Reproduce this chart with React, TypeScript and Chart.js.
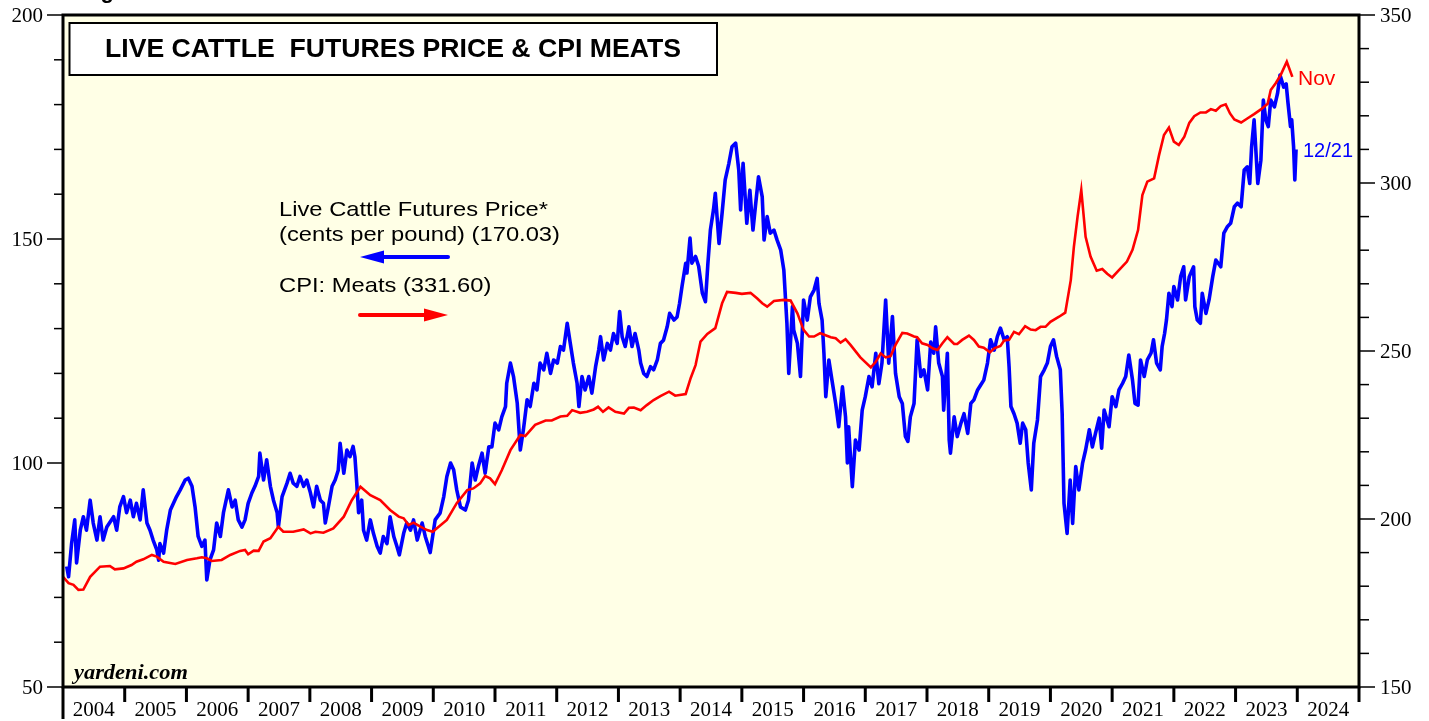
import React, { useEffect, useRef } from "react";
import { Chart, registerables } from "chart.js";

Chart.register(...registerables);

// Live cattle futures price (cents per pound), weekly-ish readings
const cattleDates = [
  2004.06, 2004.09, 2004.14, 2004.19, 2004.22, 2004.28, 2004.33, 2004.38, 2004.44, 2004.49, 2004.55, 2004.6, 2004.65, 2004.71, 2004.82, 2004.87, 2004.92, 2004.98,
  2005.03, 2005.09, 2005.14, 2005.19, 2005.25, 2005.3, 2005.36, 2005.41, 2005.46, 2005.52, 2005.55, 2005.57, 2005.63, 2005.68, 2005.74, 2005.79, 2005.84, 2005.9, 2005.98,
  2006.03, 2006.09, 2006.14, 2006.19, 2006.25, 2006.3, 2006.33, 2006.38, 2006.44, 2006.49, 2006.55, 2006.6, 2006.68, 2006.74, 2006.79, 2006.84, 2006.9, 2006.95,
  2007.0, 2007.06, 2007.11, 2007.17, 2007.19, 2007.25, 2007.3, 2007.36, 2007.41, 2007.47, 2007.49, 2007.55, 2007.63, 2007.68, 2007.73, 2007.79, 2007.84, 2007.9, 2007.95,
  2008.01, 2008.06, 2008.11, 2008.17, 2008.22, 2008.25, 2008.3, 2008.36, 2008.41, 2008.46, 2008.49, 2008.55, 2008.6, 2008.65, 2008.7, 2008.73, 2008.76, 2008.79, 2008.84, 2008.87, 2008.92, 2008.98,
  2009.03, 2009.09, 2009.14, 2009.19, 2009.25, 2009.3, 2009.36, 2009.41, 2009.45, 2009.52, 2009.57, 2009.63, 2009.68, 2009.74, 2009.82, 2009.87, 2009.92, 2009.95,
  2010.03, 2010.11, 2010.17, 2010.22, 2010.28, 2010.33, 2010.38, 2010.44, 2010.52, 2010.57, 2010.63, 2010.68, 2010.73, 2010.79, 2010.84, 2010.9, 2010.95,
  2011.0, 2011.06, 2011.11, 2011.17, 2011.19, 2011.25, 2011.3, 2011.36, 2011.41, 2011.46, 2011.52, 2011.57, 2011.63, 2011.68, 2011.73, 2011.79, 2011.84, 2011.9, 2011.95,
  2012.01, 2012.06, 2012.11, 2012.17, 2012.22, 2012.27, 2012.33, 2012.36, 2012.41, 2012.46, 2012.52, 2012.57, 2012.63, 2012.68, 2012.71, 2012.76, 2012.82, 2012.87, 2012.92, 2012.98,
  2013.02, 2013.06, 2013.11, 2013.17, 2013.22, 2013.27, 2013.33, 2013.36, 2013.41, 2013.46, 2013.52, 2013.57, 2013.63, 2013.68, 2013.73, 2013.79, 2013.83, 2013.9, 2013.95, 2013.99,
  2014.03, 2014.09, 2014.11, 2014.16, 2014.19, 2014.25, 2014.3, 2014.36, 2014.41, 2014.45, 2014.49, 2014.54, 2014.57, 2014.63, 2014.68, 2014.73, 2014.79, 2014.84, 2014.9, 2014.95, 2014.98,
  2015.02, 2015.08, 2015.13, 2015.18, 2015.22, 2015.27, 2015.33, 2015.36, 2015.41, 2015.46, 2015.52, 2015.57, 2015.63, 2015.68, 2015.73, 2015.76, 2015.82, 2015.84, 2015.9, 2015.95,
  2016.0, 2016.06, 2016.11, 2016.17, 2016.22, 2016.25, 2016.3, 2016.33, 2016.36, 2016.41, 2016.46, 2016.52, 2016.57, 2016.63, 2016.68, 2016.71, 2016.73, 2016.79, 2016.84, 2016.9, 2016.95,
  2017.0, 2017.06, 2017.11, 2017.17, 2017.22, 2017.27, 2017.33, 2017.38, 2017.44, 2017.49, 2017.55, 2017.6, 2017.65, 2017.69, 2017.73, 2017.79, 2017.84, 2017.9, 2017.95,
  2018.01, 2018.06, 2018.11, 2018.14, 2018.19, 2018.25, 2018.27, 2018.33, 2018.36, 2018.38, 2018.44, 2018.49, 2018.55, 2018.6, 2018.66, 2018.71, 2018.76, 2018.82, 2018.87, 2018.92, 2018.98,
  2019.03, 2019.09, 2019.14, 2019.19, 2019.25, 2019.3, 2019.33, 2019.36, 2019.41, 2019.46, 2019.51, 2019.55, 2019.6, 2019.64, 2019.69, 2019.73, 2019.79, 2019.84, 2019.9, 2019.95,
  2020.0, 2020.05, 2020.1, 2020.16, 2020.19, 2020.22, 2020.27, 2020.32, 2020.36, 2020.41, 2020.46, 2020.52, 2020.57, 2020.63, 2020.68, 2020.73, 2020.79, 2020.83, 2020.87, 2020.95,
  2021.0, 2021.06, 2021.11, 2021.17, 2021.22, 2021.27, 2021.33, 2021.37, 2021.42, 2021.46, 2021.52, 2021.57, 2021.63, 2021.67, 2021.72, 2021.78, 2021.81, 2021.85, 2021.88, 2021.92, 2021.97,
  2022.0, 2022.06, 2022.11, 2022.16, 2022.19, 2022.25, 2022.32, 2022.34, 2022.38, 2022.43, 2022.46, 2022.52, 2022.57, 2022.63, 2022.68, 2022.76, 2022.81, 2022.87, 2022.92, 2022.98,
  2023.03, 2023.09, 2023.14, 2023.19, 2023.23, 2023.26, 2023.3, 2023.36, 2023.41, 2023.45, 2023.49, 2023.53, 2023.57, 2023.63, 2023.68, 2023.72, 2023.78, 2023.82, 2023.85, 2023.89, 2023.91, 2023.94, 2023.96, 2023.98,
];
const cattleValues = [
  76.9, 74.6, 82.1, 87.3, 77.7, 85, 88, 85, 91.7, 86.6, 82.8, 88, 82.8, 85.7, 88, 85, 90.2, 92.5,
  88.9, 91.7, 88, 91, 87.3, 94, 86.6, 85, 82.8, 80.6, 78.3, 82, 79.9, 85, 89.5, 91, 92.5, 94, 96.2,
  96.6, 94.8, 90.2, 83.6, 81.4, 82.8, 73.9, 78.3, 80.6, 86.6, 83.6, 88.9, 94, 90.2, 91.7, 87.3, 85.7, 87.3,
  91, 93.3, 94.8, 97, 102.2, 96.2, 100.7, 94.8, 91.7, 88.9, 85.7, 92.5, 95.5, 97.7, 95.5, 94.8, 97, 94.8, 96.2,
  93.3, 90.2, 94.8, 91.7, 91, 86.6, 90.2, 94.8, 96.2, 98.4, 104.4, 97.7, 102.9, 101.4, 103.7, 101.4, 95.5, 88.9, 91.7, 85, 82.8, 87.3,
  84.3, 81.4, 79.9, 83.6, 82, 88, 83.6, 81.4, 79.5, 84.3, 86.6, 85, 87.3, 82.8, 86.6, 83.6, 81.4, 80,
  87.3, 88.8, 92.5, 97, 100, 98.5, 94, 90.2, 89.5, 91.7, 100, 96.2, 99.2, 102.2, 97.7, 103.6, 103.6,
  108.9, 107.4, 110.3, 112.6, 117.8, 122.3, 119.3, 113.4, 102.9, 107.4, 114.1, 112.6, 117.8, 116.3, 122.3, 120.8, 124.5, 120, 123,
  122.3, 126, 125.2, 131.2, 126.7, 122.3, 117.8, 112.6, 119.3, 116.3, 119.3, 115.6, 121.5, 125.2, 128.2, 123, 126.7, 125.2, 128.9, 126.7,
  133.8, 128.2, 126, 130.4, 126, 128.9, 125.2, 122.3, 120, 119.3, 121.5, 120.8, 123, 126.7, 127.4, 130.4, 133.4, 131.9, 132.6, 135.6,
  139.4, 144.6, 142.4, 150.2, 144.6, 146.1, 143.9, 137.9, 136, 144.6, 152, 156.5, 160.2, 149, 155.8, 163.2, 166.9, 170.6, 171.4, 165.4, 156.5,
  166.9, 153.5, 160.9, 152, 157.3, 163.9, 159.4, 149.8, 155, 151.3, 152, 149.8, 147.5, 143.1, 131.2, 120, 134.9, 129.7, 126.7, 119.3,
  136.4, 131.9, 137.1, 138.6, 141.2, 135.6, 131.9, 124.5, 114.8, 123, 118.5, 113.3, 108.1, 117, 110.3, 100, 108.1, 94.7, 105.1, 102.9, 111.8,
  114.8, 119.3, 117, 124.5, 117.7, 122.3, 136.4, 122.3, 132.7, 120, 114.8, 113.3, 105.9, 104.8, 110.3, 113.3, 127.5, 119.3, 120.8,
  116.3, 127, 124.5, 130.4, 122.3, 119.3, 111.8, 124.5, 105.1, 102.2, 110.3, 105.9, 108.9, 111, 106.6, 113.3, 114.1, 116.3, 117.4, 118.5, 122.3,
  127.5, 125.2, 128.2, 130.1, 127.5, 128.2, 121.5, 112.6, 111, 108.9, 104.4, 108.9, 107.4, 100, 94, 104.4, 109.6, 119.3, 120.8, 122.3,
  126, 127.5, 123.8, 120.8, 111.1, 91, 84.3, 96.2, 86.5, 99.2, 94, 99.9, 102.9, 107.4, 103.6, 106.6, 110, 103.3, 111.8, 108.1,
  114.8, 112.6, 116.3, 117.8, 119.3, 124.1, 118.5, 113.3, 112.9, 123, 119.3, 123, 124.5, 127.5, 122.3, 120.8, 126, 128.9, 131.9, 137.9, 134.9,
  139.4, 136.4, 141.6, 143.8, 136.4, 141.6, 143.8, 134.9, 131.9, 131.2, 137.9, 133.4, 136.4, 141.6, 145.3, 143.8, 151.3, 152.8, 153.5, 157.2,
  158, 157.2, 165.4, 166.1, 162.4, 170.6, 176.6, 162.4, 167.6, 181, 176.6, 175.1, 181, 179.5, 182.5, 186.6, 183.9, 184.6, 180.3, 175.1, 176.6, 170.6, 163.2, 170,
];

// CPI: Meats (index), monthly readings
const meatsDates = [
  2004.0, 2004.09, 2004.17, 2004.25, 2004.33, 2004.44, 2004.6, 2004.76, 2004.84, 2004.98,
  2005.11, 2005.19, 2005.3, 2005.44, 2005.52, 2005.63, 2005.82,
  2006.01, 2006.17, 2006.25, 2006.33, 2006.41, 2006.57, 2006.71, 2006.87, 2006.95,
  2007.0, 2007.09, 2007.17, 2007.25, 2007.36, 2007.49, 2007.57, 2007.73, 2007.9,
  2008.01, 2008.09, 2008.22, 2008.38, 2008.55, 2008.68, 2008.82, 2008.98,
  2009.14, 2009.3, 2009.44, 2009.52, 2009.6, 2009.68, 2009.79, 2009.9, 2009.99,
  2010.22, 2010.38, 2010.55, 2010.65, 2010.76, 2010.84, 2010.92,
  2011.0, 2011.11, 2011.25, 2011.41, 2011.49, 2011.65, 2011.82, 2011.92,
  2012.06, 2012.17, 2012.25, 2012.38, 2012.49, 2012.6, 2012.67, 2012.75, 2012.84, 2012.95,
  2013.09, 2013.17, 2013.25, 2013.36, 2013.46, 2013.57, 2013.68, 2013.82, 2013.92,
  2014.09, 2014.17, 2014.25, 2014.33, 2014.44, 2014.57, 2014.68, 2014.76, 2014.9,
  2015.0, 2015.14, 2015.25, 2015.33, 2015.41, 2015.52, 2015.68, 2015.79, 2015.9,
  2016.0, 2016.09, 2016.17, 2016.27, 2016.44, 2016.52, 2016.6, 2016.68, 2016.76, 2016.92,
  2017.09, 2017.17, 2017.25, 2017.33, 2017.41, 2017.49, 2017.6, 2017.68, 2017.79, 2017.84, 2017.92,
  2018.01, 2018.09, 2018.17, 2018.25, 2018.33, 2018.44, 2018.49, 2018.57, 2018.68, 2018.76, 2018.84, 2018.92,
  2019.02, 2019.09, 2019.19, 2019.25, 2019.33, 2019.41, 2019.49, 2019.59, 2019.68, 2019.76, 2019.84, 2019.92,
  2020.0, 2020.14, 2020.24, 2020.33, 2020.38, 2020.44, 2020.5, 2020.57, 2020.65, 2020.75, 2020.84, 2020.92,
  2021.0, 2021.11, 2021.24, 2021.33, 2021.42, 2021.49, 2021.57, 2021.68, 2021.76, 2021.84, 2021.92,
  2022.0, 2022.08, 2022.17, 2022.25, 2022.33, 2022.43, 2022.52, 2022.6, 2022.68, 2022.76, 2022.84, 2022.91, 2022.98,
  2023.09, 2023.19, 2023.3, 2023.41, 2023.52, 2023.57, 2023.65, 2023.73, 2023.83, 2023.92,
];
const meatsValues = [
  182.8, 180.9, 180.4, 178.9, 179, 182.8, 185.8, 186, 185, 185.3,
  186.3, 187.3, 188, 189.3, 188.8, 187.3, 186.6,
  187.8, 188.3, 188.6, 188.3, 187.5, 187.8, 189.3, 190.5, 190.8,
  189.5, 190.6, 190.5, 193.3, 194.3, 197.7, 196.2, 196.2, 196.9,
  195.7, 196.2, 195.9, 197.2, 200.7, 205.6, 209.6, 207.1,
  205.6, 202.7, 200.7, 200.2, 198.2, 198.9, 197.7, 196.7, 196.2,
  199.7, 204.7, 208.6, 209.1, 210.6, 212.8, 212.1,
  210.4, 214.5, 220.5, 225, 224.7, 228, 229.3, 229.3,
  230.5, 230.7, 232.4, 231.6, 231.9, 232.6, 233.4, 231.9, 233.2, 231.9,
  231.4, 233.1, 233.2, 232.4, 233.9, 235.4, 236.6, 237.9, 236.7,
  237.2, 241.9, 245.8, 252.8, 255.1, 256.8, 264.2, 267.6, 267.3,
  267, 267.3, 265.6, 264.2, 263.2, 264.9, 265.2, 265, 261.2,
  256.3, 254.3, 254.3, 255.3, 254.1, 253.8, 252.5, 253.5, 251.8, 248.1,
  245.1, 246.8, 249.3, 248.1, 248.5, 251.8, 255.4, 255.2, 254.3, 254.1, 252.3,
  251.8, 250.8, 250.3, 252.3, 254.1, 252.1, 252.1, 253.3, 254.6, 253.3, 251.3, 251,
  249.6, 250.8, 251.5, 253.1, 253.3, 255.7, 255, 257.4, 256.4, 256.2, 257.2, 257.2,
  258.7, 260.2, 261.4, 271.1, 281, 290, 297.9, 284, 278.1, 273.9, 274.4, 273,
  271.9, 274.1, 276.6, 280.1, 286, 296.4, 300.4, 301.4, 308.3, 314.3, 316.5,
  312.3, 311.3, 313.8, 317.9, 319.9, 321, 321, 322, 321.5, 322.9, 323.4, 320.7, 318.9,
  318, 319.2, 320.5, 321.9, 323.6, 327.7, 329.7, 332.1, 336.1, 331.6,
];

const yearLabels = [2004, 2005, 2006, 2007, 2008, 2009, 2010, 2011, 2012, 2013, 2014, 2015, 2016, 2017, 2018, 2019, 2020, 2021, 2022, 2023, 2024];
const leftTickLabels = [50, 100, 150, 200];
const rightTickLabels = [150, 200, 250, 300, 350];

const TITLE = "LIVE CATTLE  FUTURES PRICE & CPI MEATS";
const LEGEND_CATTLE_1 = "Live Cattle Futures Price*";
const LEGEND_CATTLE_2 = "(cents per pound) (170.03)";
const LEGEND_MEATS = "CPI: Meats (331.60)";

const SANS = '"Liberation Sans", Arial, sans-serif';
const SERIF = '"Liberation Serif", "Times New Roman", serif';

function stretchedText(ctx: CanvasRenderingContext2D, text: string, x: number, y: number, sx: number, align: CanvasTextAlign) {
  ctx.save();
  ctx.translate(x, y);
  ctx.scale(sx, 1);
  ctx.textAlign = align;
  ctx.fillText(text, 0, 0);
  ctx.restore();
}

function drawArrow(ctx: CanvasRenderingContext2D, x1: number, x2: number, y: number, color: string, headLeft: boolean) {
  ctx.save();
  ctx.strokeStyle = color;
  ctx.fillStyle = color;
  ctx.lineWidth = 4;
  ctx.lineCap = "round";
  const head = 24;
  ctx.beginPath();
  if (headLeft) {
    ctx.moveTo(x1 + head - 4, y);
    ctx.lineTo(x2, y);
  } else {
    ctx.moveTo(x1, y);
    ctx.lineTo(x2 - head + 4, y);
  }
  ctx.stroke();
  ctx.beginPath();
  if (headLeft) {
    ctx.moveTo(x1, y);
    ctx.lineTo(x1 + head, y - 6.5);
    ctx.lineTo(x1 + head, y + 6.5);
  } else {
    ctx.moveTo(x2, y);
    ctx.lineTo(x2 - head, y - 6.5);
    ctx.lineTo(x2 - head, y + 6.5);
  }
  ctx.closePath();
  ctx.fill();
  ctx.restore();
}

const decorPlugin = {
  id: "decor",
  beforeDatasetsDraw(chart: any) {
    const { ctx, chartArea: a } = chart;
    ctx.save();
    ctx.fillStyle = "#ffffe6";
    ctx.fillRect(a.left, a.top, a.right - a.left, a.bottom - a.top);
    ctx.restore();
  },
  afterDatasetsDraw(chart: any) {
    const { ctx, chartArea: a, scales } = chart;
    const xs = scales.x;
    const yl = scales.y;
    const yr = scales.y1;
    ctx.save();

    // cut-off text at very top
    ctx.fillStyle = "#000";
    ctx.font = `bold 22px ${SANS}`;
    ctx.textAlign = "left";
    ctx.textBaseline = "alphabetic";
    ctx.fillText("ng", 87, -2);

    // plot border
    ctx.strokeStyle = "#000";
    ctx.lineWidth = 3;
    ctx.strokeRect(a.left, a.top, a.right - a.left, a.bottom - a.top);

    // left ticks
    ctx.lineWidth = 1.5;
    for (let v = 50; v <= 200; v += 10) {
      const y = yl.getPixelForValue(v);
      const len = v % 50 === 0 ? 16 : 9;
      ctx.beginPath();
      ctx.moveTo(a.left - len, y);
      ctx.lineTo(a.left, y);
      ctx.stroke();
    }
    // right ticks
    for (let v = 150; v <= 350; v += 10) {
      const y = yr.getPixelForValue(v);
      const len = v % 50 === 0 ? 16 : 10;
      ctx.beginPath();
      ctx.moveTo(a.right, y);
      ctx.lineTo(a.right + len, y);
      ctx.stroke();
    }
    ctx.font = `21px ${SERIF}`;
    ctx.textBaseline = "middle";
    leftTickLabels.forEach((v) => stretchedText(ctx, String(v), 43, yl.getPixelForValue(v) + 1, 1.0, "right"));
    rightTickLabels.forEach((v) => stretchedText(ctx, String(v), a.right + 21, yr.getPixelForValue(v) + 1, 1.0, "left"));

    // x ticks
    ctx.lineWidth = 3;
    for (let yv = 2004; yv <= 2025; yv++) {
      const x = xs.getPixelForValue(yv);
      ctx.beginPath();
      ctx.moveTo(x, a.bottom);
      ctx.lineTo(x, a.bottom + (yv === 2004 ? 32 : 15));
      ctx.stroke();
    }
    ctx.textBaseline = "alphabetic";
    ctx.font = `21px ${SERIF}`;
    yearLabels.forEach((yv) => stretchedText(ctx, String(yv), xs.getPixelForValue(yv + 0.5), 716, 1.0, "center"));

    // title box
    ctx.fillStyle = "#fff";
    ctx.fillRect(69.5, 23, 647.5, 52);
    ctx.lineWidth = 2;
    ctx.strokeRect(69.5, 23, 647.5, 52);
    ctx.fillStyle = "#000";
    ctx.font = `bold 25px ${SANS}`;
    stretchedText(ctx, TITLE, 393, 57, 1.065, "center");

    // legend
    ctx.font = `21px ${SANS}`;
    stretchedText(ctx, LEGEND_CATTLE_1, 279, 216, 1.13, "left");
    stretchedText(ctx, LEGEND_CATTLE_2, 279, 241, 1.13, "left");
    stretchedText(ctx, LEGEND_MEATS, 279, 292, 1.13, "left");
    drawArrow(ctx, 360, 448, 257, "#0000ff", true);
    drawArrow(ctx, 360, 448, 315, "#ff0000", false);

    // end labels
    ctx.font = `21px ${SANS}`;
    ctx.fillStyle = "#ff0000";
    stretchedText(ctx, "Nov", 1298, 85, 1.0, "left");
    ctx.font = `20px ${SANS}`;
    ctx.fillStyle = "#0000ff";
    stretchedText(ctx, "12/21", 1303, 157, 1.0, "left");

    // source
    ctx.fillStyle = "#000";
    ctx.font = `italic bold 20px ${SERIF}`;
    stretchedText(ctx, "yardeni.com", 74, 679, 1.12, "left");

    ctx.restore();
  },
};

export default function App() {
  const ref = useRef<HTMLCanvasElement | null>(null);
  useEffect(() => {
    document.body.style.margin = "0";
    if (!ref.current) return;
    const meats = meatsDates.map((d, i) => ({ x: d, y: meatsValues[i] }));
    const cattle = cattleDates.map((d, i) => ({ x: d, y: cattleValues[i] }));
    const chart = new Chart(ref.current, {
      type: "line",
      data: {
        datasets: [
          { data: meats, yAxisID: "y1", borderColor: "#ff0000", borderWidth: 2.6, pointRadius: 0, tension: 0, fill: false },
          { data: cattle, yAxisID: "y", borderColor: "#0000ff", borderWidth: 3.6, pointRadius: 0, tension: 0, fill: false, borderJoinStyle: "round" },
        ],
      },
      options: {
        responsive: false,
        devicePixelRatio: 1,
        animation: false,
        events: [],
        layout: { padding: { top: 15, left: 0, right: 0, bottom: 0 } },
        plugins: { legend: { display: false }, tooltip: { enabled: false }, title: { display: false } },
        scales: {
          x: {
            type: "linear",
            min: 2004,
            max: 2025,
            grid: { display: false },
            border: { display: false },
            ticks: { display: false },
            afterFit: (s: any) => { s.height = 34; },
          },
          y: {
            position: "left",
            min: 50,
            max: 200,
            grid: { display: false },
            border: { display: false },
            ticks: { display: false },
            afterFit: (s: any) => { s.width = 63; },
          },
          y1: {
            position: "right",
            min: 150,
            max: 350,
            grid: { display: false },
            border: { display: false },
            ticks: { display: false },
            afterFit: (s: any) => { s.width = 70; },
          },
        },
      } as any,
      plugins: [decorPlugin],
    });
    return () => chart.destroy();
  }, []);
  return (
    <div style={{ position: "absolute", left: 0, top: 0, width: 1429, height: 721, background: "#fff" }}>
      <canvas ref={ref} width={1429} height={721} style={{ display: "block", width: 1429, height: 721 }} />
    </div>
  );
}
